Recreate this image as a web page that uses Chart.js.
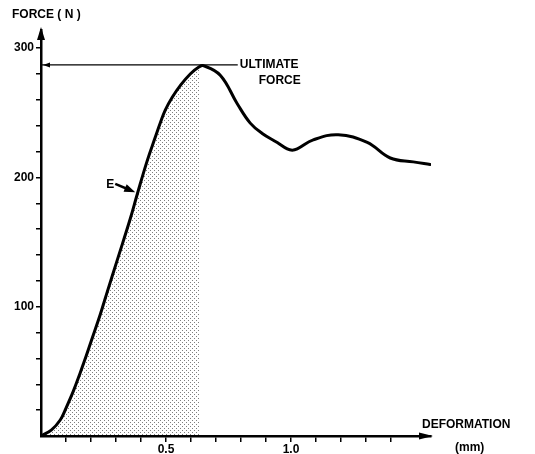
<!DOCTYPE html>
<html>
<head>
<meta charset="utf-8">
<script src="https://cdn.jsdelivr.net/npm/chart.js@4"></script>
<style>
  body { margin: 0; background: #fff; }
</style>
</head>
<body>
<canvas id="myChart" width="535" height="454"></canvas>
<script>
// DATA
const deformation = [0, 0.041, 0.077, 0.101, 0.129, 0.157, 0.181, 0.201, 0.237, 0.265, 0.305, 0.357, 0.385, 0.425, 0.457, 0.477, 0.497, 0.525, 0.557, 0.597, 0.633, 0.649, 0.717, 0.785, 0.837, 0.885, 0.945, 0.985, 1.005, 1.025, 1.089, 1.189, 1.305, 1.397, 1.489, 1.557];
const force       = [0, 4.6, 12.4, 22, 34.5, 49, 62, 73.5, 94, 111.5, 136, 168, 187, 213, 231, 242, 252, 262, 271, 280, 285.5, 286.5, 279, 257, 242, 234, 227, 222, 221, 222, 229, 233, 227, 215, 212, 210];

const SHADE_END = 0.633;          // stippled area ends here (mm)
const ULTIMATE_FORCE = 287;       // N
const ULTIMATE_LINE_END = 0.787;  // mm
const E_LABEL = { x: 0.277, y: 194 };
const E_ARROW = { x1: 0.297, y1: 195, x2: 0.377, y2: 188.5 };

const xLabels = { 0.5: '0.5', 1.0: '1.0' };
const yLabels = [100, 200, 300];

const X_MAX = 1.56;
const Y_MAX = 314;
const FONT = '"Liberation Sans", Arial, sans-serif';

/**********************************************************************************
 * STIPPLE PATTERN
 *********************************************************************************/

const tile = document.createElement('canvas');
tile.width = 4;
tile.height = 4;
const tctx = tile.getContext('2d');
tctx.fillStyle = 'rgba(40,40,40,0.6)';
tctx.fillRect(0, 0, 1, 1);
tctx.fillRect(2, 2, 1, 1);
const stipple = tctx.createPattern(tile, 'repeat');

/**********************************************************************************
 * ANNOTATIONS
 *********************************************************************************/

function arrowHead(ctx, tipX, tipY, fromX, fromY, len, half) {
    const a = Math.atan2(tipY - fromY, tipX - fromX);
    ctx.beginPath();
    ctx.moveTo(tipX, tipY);
    ctx.lineTo(tipX - len * Math.cos(a) + half * Math.sin(a), tipY - len * Math.sin(a) - half * Math.cos(a));
    ctx.lineTo(tipX - len * Math.cos(a) - half * Math.sin(a), tipY - len * Math.sin(a) + half * Math.cos(a));
    ctx.closePath();
    ctx.fill();
}

const annotations = {
    id: 'annotations',
    afterDraw(chart) {
        const ctx = chart.ctx;
        const xs = chart.scales.x, ys = chart.scales.y;
        const area = chart.chartArea;
        ctx.save();
        ctx.fillStyle = '#000';
        ctx.strokeStyle = '#000';

        // axis arrows
        arrowHead(ctx, area.left, area.top - 3, area.left, area.top + 20, 13, 4);
        arrowHead(ctx, area.right + 2, area.bottom, area.right - 20, area.bottom, 14, 3.5);

        // ultimate force arrow (pointing at the y axis)
        const uy = ys.getPixelForValue(ULTIMATE_FORCE);
        arrowHead(ctx, area.left + 2, uy, area.left + 20, uy, 7, 2.5);

        // E arrow
        const ax1 = xs.getPixelForValue(E_ARROW.x1), ay1 = ys.getPixelForValue(E_ARROW.y1);
        const ax2 = xs.getPixelForValue(E_ARROW.x2), ay2 = ys.getPixelForValue(E_ARROW.y2);
        ctx.lineWidth = 2.5;
        ctx.beginPath();
        ctx.moveTo(ax1, ay1);
        ctx.lineTo(ax2 - 6, ay2 - 2.5);
        ctx.stroke();
        arrowHead(ctx, ax2, ay2, ax1, ay1, 11, 4);

        // texts
        ctx.font = 'bold 12px ' + FONT;
        ctx.textBaseline = 'middle';
        ctx.textAlign = 'left';
        ctx.fillText('FORCE ( N )', area.left - 29, 15);
        ctx.fillText('E', xs.getPixelForValue(E_LABEL.x) - 4, ys.getPixelForValue(E_LABEL.y));
        ctx.fillText('DEFORMATION', area.right - 9, area.bottom - 11);
        ctx.fillText('(mm)', area.right + 24, area.bottom + 12);

        const ux = xs.getPixelForValue(ULTIMATE_LINE_END) + 2;
        ctx.fillText('ULTIMATE', ux, uy);
        ctx.textAlign = 'right';
        ctx.fillText('FORCE', ux + 61, uy + 16);
        ctx.restore();
    }
};

/**********************************************************************************
 * GRAPHING
 *********************************************************************************/

const curve = deformation.map((d, i) => ({ x: d, y: force[i] }));
const shaded = curve.filter(p => p.x <= SHADE_END + 1e-9);

const chart = new Chart(document.getElementById('myChart'), {
    type: 'line',
    data: {
        datasets: [
            {
                data: curve,
                borderColor: '#000',
                borderWidth: 3,
                pointRadius: 0,
                tension: 0.4,
                fill: false,
                borderCapStyle: 'round',
                borderJoinStyle: 'round'
            },
            {
                data: [{ x: 0, y: ULTIMATE_FORCE }, { x: ULTIMATE_LINE_END, y: ULTIMATE_FORCE }],
                borderColor: '#000',
                borderWidth: 1.3,
                pointRadius: 0,
                fill: false
            },
            {
                data: shaded,
                borderWidth: 0,
                borderColor: 'rgba(0,0,0,0)',
                backgroundColor: stipple,
                pointRadius: 0,
                tension: 0.4,
                fill: 'origin'
            }
        ]
    },
    options: {
        responsive: false,
        animation: false,
        layout: { padding: { top: 30, right: 104, left: 0, bottom: 0 } },
        plugins: { legend: { display: false }, tooltip: { enabled: false } },
        scales: {
            x: {
                type: 'linear',
                min: 0,
                max: X_MAX,
                afterFit: (scale) => { scale.height = 18; },
                border: { display: true, color: '#000', width: 2.5 },
                grid: {
                    drawOnChartArea: false,
                    drawTicks: true,
                    tickLength: 6,
                    lineWidth: 1.5,
                    color: (c) => (c.tick && c.tick.value > 0.05 && c.tick.value < 1.45) ? '#000' : 'rgba(0,0,0,0)'
                },
                ticks: {
                    stepSize: 0.1,
                    includeBounds: false,
                    autoSkip: false,
                    maxRotation: 0,
                    padding: 0,
                    color: '#000',
                    font: { family: FONT, size: 12, weight: 'bold' },
                    callback: (v) => {
                        const k = Math.round(v * 10) / 10;
                        return xLabels[k] || '';
                    }
                }
            },
            y: {
                min: 0,
                max: Y_MAX,
                afterFit: (scale) => { scale.width = 41; },
                border: { display: true, color: '#000', width: 2.5 },
                grid: {
                    drawOnChartArea: false,
                    drawTicks: true,
                    tickLength: 5,
                    lineWidth: 1.5,
                    color: (c) => (c.tick && c.tick.value > 0) ? '#000' : 'rgba(0,0,0,0)'
                },
                ticks: {
                    stepSize: 20,
                    includeBounds: false,
                    autoSkip: false,
                    padding: 2,
                    color: '#000',
                    font: { family: FONT, size: 12, weight: 'bold' },
                    callback: (v) => yLabels.includes(Math.round(v)) ? String(Math.round(v)) : ''
                }
            }
        }
    },
    plugins: [annotations]
});
</script>
</body>
</html>
